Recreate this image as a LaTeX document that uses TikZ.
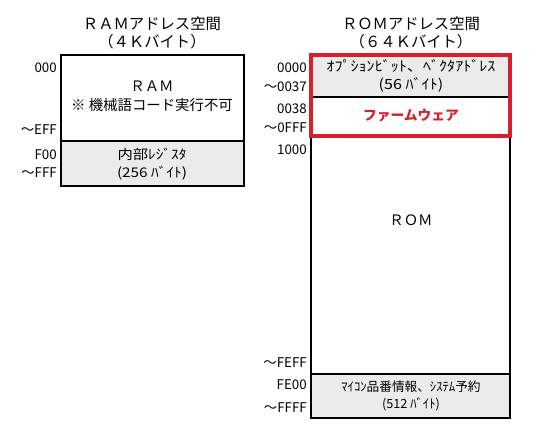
\documentclass[tikz,border=0pt]{standalone}
\usepackage{fontspec}
\setmainfont{Noto Sans CJK JP}
\newfontfamily\widekana[FakeStretch=1.15]{Noto Sans CJK JP}
\definecolor{cellgray}{HTML}{EBEBEB}
\definecolor{fwred}{HTML}{D8202C}
\begin{document}
\begin{tikzpicture}[x=0.75pt,y=-0.75pt,
  box/.style={draw=black,line width=0.9pt},
  addr/.style={anchor=east,inner sep=0pt,font=\fontsize{10}{10}\selectfont},
  ttl/.style={font=\fontsize{11.5}{13.5}\selectfont,align=center,inner sep=0pt},
  cell/.style={font=\fontsize{9.5}{13}\selectfont,align=center,inner sep=0pt}]
\useasboundingbox (0,0) rectangle (544,437);
% RAM
\fill[cellgray] (61,141) rectangle (244,186);
\draw[box] (61,55) rectangle (244,186);
\draw[box] (61,141) -- (244,141);
\node[ttl] (ramt) at (152,33) {ＲＡＭアドレス空間\\（４Ｋバイト）};
\node[cell,font=\fontsize{10.8}{14}\selectfont] (ramc) at (152,96) {ＲＡＭ\\※ 機械語コード実行不可};
\node[cell,font=\widekana\fontsize{10}{13}\selectfont] (regc) at (152,164) {内部ﾚｼﾞｽﾀ\\(256 ﾊﾞｲﾄ)};
\node[addr] (a1) at (57,68) {000};
\node[addr] (a2) at (57,130) {～EFF};
\node[addr] (a3) at (57,155) {F00};
\node[addr] (a4) at (57,173) {～FFF};
% ROM
\fill[cellgray] (311,55) rectangle (510,97);
\fill[cellgray] (311,374) rectangle (510,418);
\draw[box] (311,55) rectangle (510,418);
\draw[box] (311,97) -- (510,97);
\draw[box] (311,374) -- (510,374);
\draw[fwred,line width=2.4pt] (311,55) rectangle (510,136);
\node[ttl] (romt) at (411,33) {ＲＯＭアドレス空間\\（６４Ｋバイト）};
\node[cell,font=\widekana\fontsize{10.5}{13}\selectfont] (optc) at (411,76) {ｵﾌﾟｼｮﾝﾋﾞｯﾄ、ﾍﾞｸﾀｱﾄﾞﾚｽ\\(56 ﾊﾞｲﾄ)};
\node[cell,text=fwred,font=\fontsize{10.3}{12}\selectfont\bfseries] (fwc) at (411,116) {ファームウェア};
\node[cell,font=\fontsize{10.8}{12}\selectfont] (romc) at (411,220) {ＲＯＭ};
\node[cell] (sysc) at (411,396) {ﾏｲｺﾝ品番情報、ｼｽﾃﾑ予約\\(512 ﾊﾞｲﾄ)};
\node[addr] (b1) at (307,68) {0000};
\node[addr] (b2) at (307,87) {～0037};
\node[addr] (b3) at (307,109) {0038};
\node[addr] (b4) at (307,128) {～0FFF};
\node[addr] (b5) at (307,150) {1000};
\node[addr] (b6) at (307,363) {～FEFF};
\node[addr] (b7) at (307,385) {FE00};
\node[addr] (b8) at (307,408) {～FFFF};
\end{tikzpicture}
\end{document}
